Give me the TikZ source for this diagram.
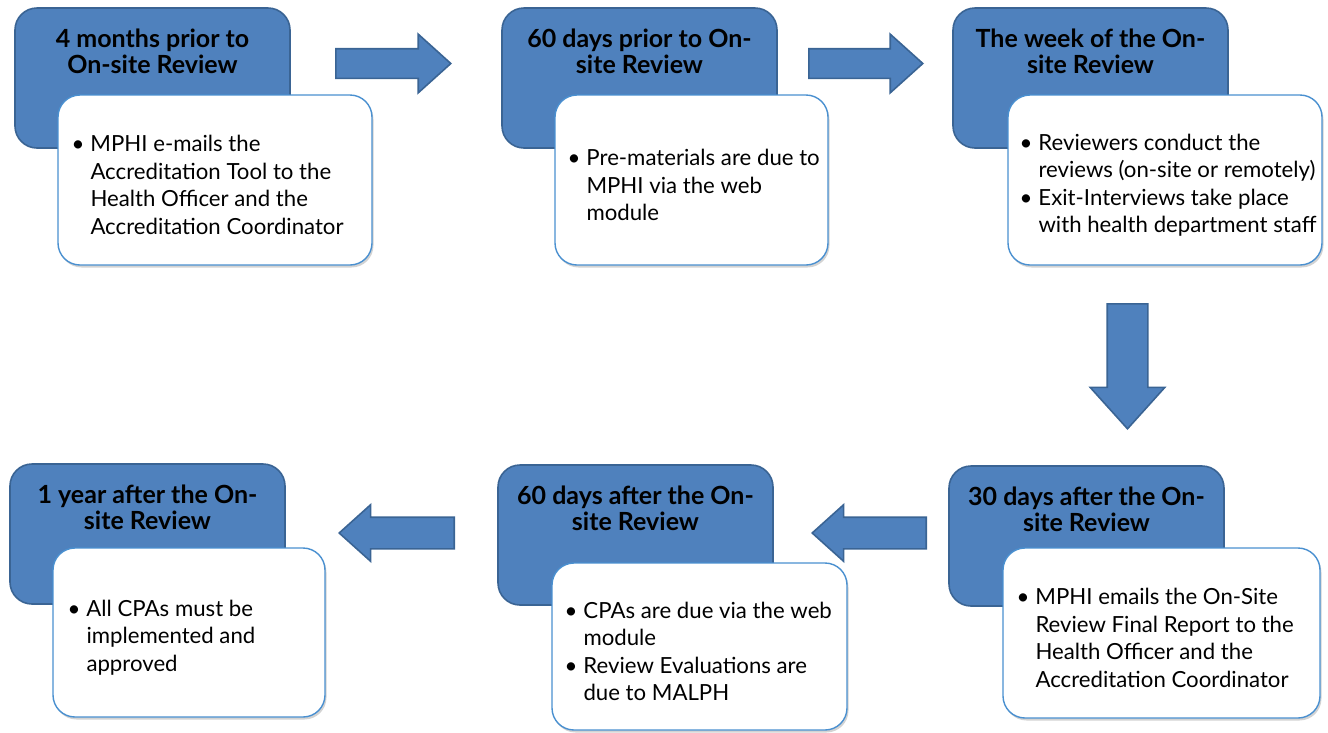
\documentclass[tikz,border=0pt]{standalone}
\usepackage{fontspec}
\setmainfont{Lato}
\usetikzlibrary{positioning,shapes.arrows,shadows}

\definecolor{stageblue}{HTML}{4F81BD}
\definecolor{stageedge}{HTML}{3A6494}
\definecolor{noteedge}{HTML}{4A90D0}

\newcommand{\bitem}{\makebox[19pt][l]{\textbullet}}
\newcommand{\bcont}{\hspace*{19pt}}

\begin{document}
\begin{tikzpicture}[x=1pt,y=1pt,
	stagebox/.style={draw=stageedge, line width=1.6pt, fill=stageblue, rounded corners=22pt,
		minimum width=275pt, minimum height=140pt},
	stagetitle/.style={font=\fontsize{25}{26}\selectfont\bfseries, align=center, inner sep=0pt},
	notebox/.style={draw=noteedge, line width=1.4pt, fill=white, rounded corners=22pt,
		drop shadow={opacity=0.35, shadow xshift=1.5pt, shadow yshift=-2.5pt}},
	notetext/.style={font=\fontsize{22.2}{27.5}\selectfont, align=left, inner sep=0pt, anchor=west, yshift=-5pt},
	flowarrow/.style={single arrow, draw=stageedge, line width=1.6pt, fill=stageblue, inner xsep=0pt,
		single arrow tip angle=84, anchor=tail}]
	\useasboundingbox (0,0) rectangle (1328,-732);

	% Draw the arrows between the stages
	\node[flowarrow, minimum height=115pt, inner ysep=14pt, single arrow head extend=14.5pt] (a1) at (335,-63.5) {};
	\node[flowarrow, minimum height=114pt, inner ysep=14pt, single arrow head extend=14.5pt] (a2) at (808,-63.5) {};
	\node[flowarrow, rotate=-90, minimum height=125pt, inner ysep=19.5pt, single arrow head extend=17pt] (a3) at (1127.5,-303) {};
	\node[flowarrow, rotate=180, minimum height=114pt, inner ysep=15pt, single arrow head extend=12.5pt] (a4) at (927,-533) {};
	\node[flowarrow, rotate=180, minimum height=115pt, inner ysep=15pt, single arrow head extend=12.5pt] (a5) at (455,-533) {};

	% Top row
	\node[stagebox] (s1) at (152.5,-78) {};
	\node[stagetitle, below=22pt of s1.north] (h1) {4 months prior to\\On-site Review};
	\node[notebox, minimum width=314pt, minimum height=170pt] (w1) at (215,-180) {};
	\node[notetext] (t1) at ([xshift=14pt]w1.west) {\bitem MPHI e-mails the\\\bcont Accreditation Tool to the\\\bcont Health Officer and the\\\bcont Accreditation Coordinator};

	\node[stagebox] (s2) at (639.5,-78) {};
	\node[stagetitle, below=22pt of s2.north] (h2) {60 days prior to On-\\site Review};
	\node[notebox, minimum width=273pt, minimum height=170pt] (w2) at (691.5,-180) {};
	\node[notetext] (t2) at ([xshift=13pt]w2.west) {\bitem Pre-materials are due to\\\bcont MPHI via the web\\\bcont module};

	\node[stagebox] (s3) at (1090.5,-78) {};
	\node[stagetitle, below=22pt of s3.north] (h3) {The week of the On-\\site Review};
	\node[notebox, minimum width=314pt, minimum height=170pt] (w3) at (1165,-180) {};
	\node[notetext] (t3) at ([xshift=12pt]w3.west) {\bitem Reviewers conduct the\\\bcont reviews (on-site or remotely)\\\bitem Exit-Interviews take place\\\bcont with health department staff};

	% Bottom row
	\node[stagebox] (s4) at (1086.5,-536) {};
	\node[stagetitle, below=22pt of s4.north] (h4) {30 days after the On-\\site Review};
	\node[notebox, minimum width=317pt, minimum height=170pt] (w4) at (1161.5,-633) {};
	\node[notetext] (t4) at ([xshift=14pt]w4.west) {\bitem MPHI emails the On-Site\\\bcont Review Final Report to the\\\bcont Health Officer and the\\\bcont Accreditation Coordinator};

	\node[stagebox] (s5) at (635.5,-535) {};
	\node[stagetitle, below=22pt of s5.north] (h5) {60 days after the On-\\site Review};
	\node[notebox, minimum width=295pt, minimum height=167pt] (w5) at (699.5,-646.5) {};
	\node[notetext] (t5) at ([xshift=13pt]w5.west) {\bitem CPAs are due via the web\\\bcont module\\\bitem Review Evaluations are\\\bcont due to MALPH};

	\node[stagebox] (s6) at (147.5,-534) {};
	\node[stagetitle, below=22pt of s6.north] (h6) {1 year after the On-\\site Review};
	\node[notebox, minimum width=272pt, minimum height=169pt] (w6) at (189,-632.5) {};
	\node[notetext] (t6) at ([xshift=15pt]w6.west) {\bitem All CPAs must be\\\bcont implemented and\\\bcont approved};
\end{tikzpicture}
\end{document}
